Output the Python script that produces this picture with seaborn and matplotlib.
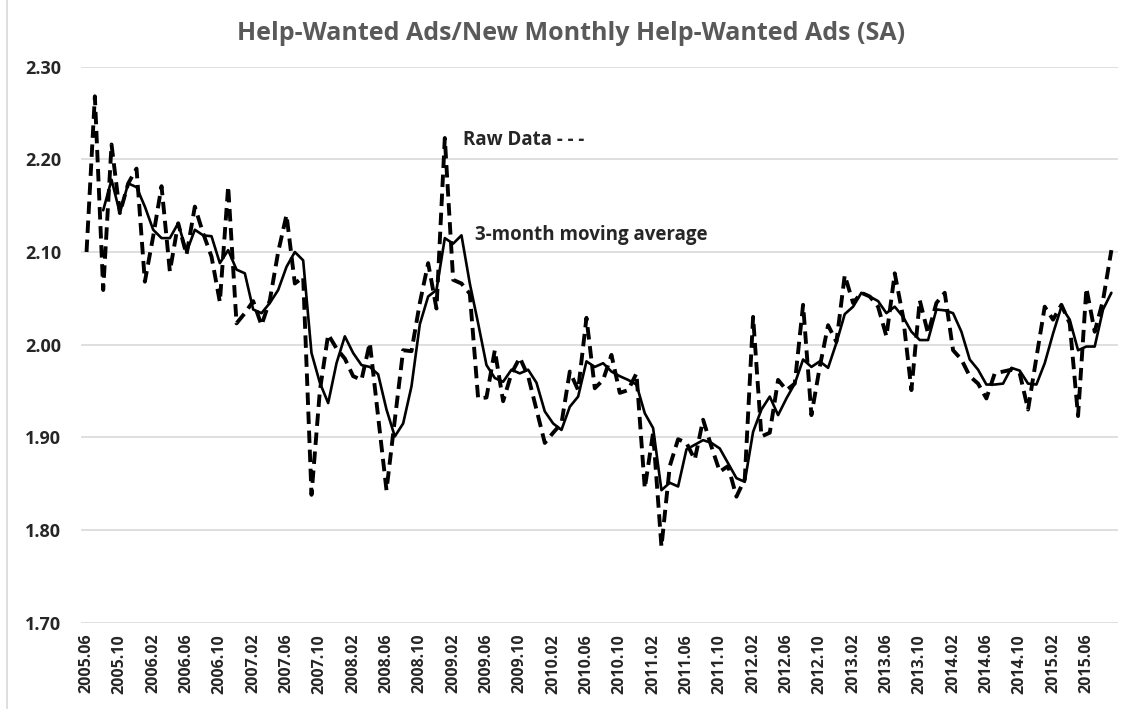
import matplotlib
matplotlib.use("Agg")
import matplotlib.pyplot as plt
import numpy as np
import pandas as pd
import seaborn as sns


# monthly help-wanted ratio, 2005.06 .. 2015.09
raw_data = [
    2.100, 2.268, 2.059, 2.216, 2.142, 2.174, 2.190, 2.068, 2.117, 2.171,
    2.079, 2.131, 2.097, 2.149, 2.120, 2.095, 2.046, 2.171, 2.023, 2.034,
    2.047, 2.021, 2.048, 2.100, 2.140, 2.066, 2.073, 1.838, 1.950, 2.011,
    1.996, 1.985, 1.966, 1.962, 2.002, 1.922, 1.843, 1.919, 1.994, 1.993,
    2.045, 2.088, 2.039, 2.223, 2.070, 2.066, 2.055, 1.942, 1.943, 1.994,
    1.939, 1.969, 1.986, 1.966, 1.930, 1.894, 1.905, 1.915, 1.971, 1.951,
    2.029, 1.953, 1.962, 1.989, 1.948, 1.951, 1.969, 1.845, 1.905, 1.782,
    1.869, 1.898, 1.894, 1.876, 1.919, 1.890, 1.863, 1.869, 1.836, 1.855,
    2.030, 1.901, 1.905, 1.962, 1.951, 1.958, 2.043, 1.924, 1.976, 2.021,
    2.003, 2.075, 2.045, 2.056, 2.052, 2.041, 2.009, 2.077, 2.030, 1.951,
    2.048, 2.012, 2.045, 2.056, 1.994, 1.984, 1.966, 1.958, 1.942, 1.969,
    1.971, 1.973, 1.969, 1.930, 1.986, 2.041, 2.027, 2.043, 2.023, 1.923,
    2.061, 2.014, 2.048, 2.102,
]

moving_avg = [
    np.nan, np.nan, 2.145, 2.178, 2.142, 2.174, 2.170, 2.149, 2.124, 2.115,
    2.115, 2.131, 2.100, 2.124, 2.118, 2.117, 2.088, 2.102, 2.081, 2.077,
    2.038, 2.034, 2.045, 2.059, 2.084, 2.100, 2.091, 1.991, 1.959, 1.937,
    1.980, 2.009, 1.991, 1.978, 1.976, 1.968, 1.930, 1.901, 1.915, 1.955,
    2.022, 2.052, 2.059, 2.115, 2.109, 2.118, 2.066, 2.023, 1.978, 1.964,
    1.960, 1.973, 1.969, 1.973, 1.959, 1.928, 1.915, 1.908, 1.933, 1.944,
    1.982, 1.976, 1.980, 1.971, 1.966, 1.962, 1.957, 1.926, 1.910, 1.843,
    1.851, 1.847, 1.887, 1.892, 1.897, 1.894, 1.888, 1.872, 1.856, 1.852,
    1.906, 1.930, 1.944, 1.924, 1.942, 1.958, 1.984, 1.976, 1.982, 1.975,
    2.002, 2.033, 2.041, 2.056, 2.052, 2.047, 2.034, 2.041, 2.030, 2.014,
    2.005, 2.005, 2.038, 2.037, 2.034, 2.014, 1.984, 1.973, 1.957, 1.957,
    1.958, 1.975, 1.972, 1.958, 1.957, 1.980, 2.012, 2.041, 2.027, 1.994,
    1.998, 1.998, 2.038, 2.056,
]

months = pd.period_range("2005-06", periods=len(raw_data), freq="M").strftime("%Y.%m")

tick_labels = [
    "2005.06", "2005.10", "2006.02", "2006.06", "2006.10", "2007.02",
    "2007.06", "2007.10", "2008.02", "2008.06", "2008.10", "2009.02",
    "2009.06", "2009.10", "2010.02", "2010.06", "2010.10", "2011.02",
    "2011.06", "2011.10", "2012.02", "2012.06", "2012.10", "2013.02",
    "2013.06", "2013.10", "2014.02", "2014.06", "2014.10", "2015.02",
    "2015.06",
]
y_ticks = [1.70, 1.80, 1.90, 2.00, 2.10, 2.20, 2.30]

df = pd.DataFrame({"month": list(months), "raw": raw_data, "ma": moving_avg})
df["pos"] = np.arange(len(df))

sns.set_style("white")
plt.rcParams["font.family"] = ["Open Sans", "DejaVu Sans"]

fig = plt.figure(figsize=(11.24, 7.09), dpi=100)
ax = fig.add_axes([0.0718, 0.1217, 0.9229, 0.7843])

sns.lineplot(data=df, x="pos", y="raw", ax=ax, color="black", linewidth=2.8,
             linestyle=(0, (3.2, 1.7)))
sns.lineplot(data=df.dropna(), x="pos", y="ma", ax=ax, color="black", linewidth=1.9)

ax.set_xlim(-0.7, 123.8)
ax.set_ylim(1.70, 2.30)
ax.set_yticks(y_ticks)
ax.set_yticklabels([f"{v:.2f}" for v in y_ticks], fontsize=13, fontweight="bold")
tick_pos = [list(months).index(t) for t in tick_labels]
ax.set_xticks(tick_pos)
ax.set_xticklabels(tick_labels, rotation=90, fontsize=11.5, fontweight="bold")
ax.tick_params(axis="y", length=0, pad=14)
ax.tick_params(axis="x", length=0, pad=8)
ax.grid(axis="y", color="#d9d9d9", linewidth=1.2)
ax.set_xlabel("")
ax.set_ylabel("")
for s in ax.spines.values():
    s.set_visible(False)

ax.text(45.2, 2.221, "Raw Data - - -", fontsize=13.5, fontweight="bold", va="center")
ax.text(46.6, 2.118, "3-month moving average", fontsize=13.5, fontweight="bold", va="center")

fig.text(0.508, 0.953, "Help-Wanted Ads/New Monthly Help-Wanted Ads (SA)",
         ha="center", va="center", fontsize=18, fontweight="bold", color="#595959")

fig.add_artist(plt.Line2D([7 / 1124, 7 / 1124], [0, 1], color="#d9d9d9", linewidth=1.2))

fig.savefig("out.png", dpi=100)
